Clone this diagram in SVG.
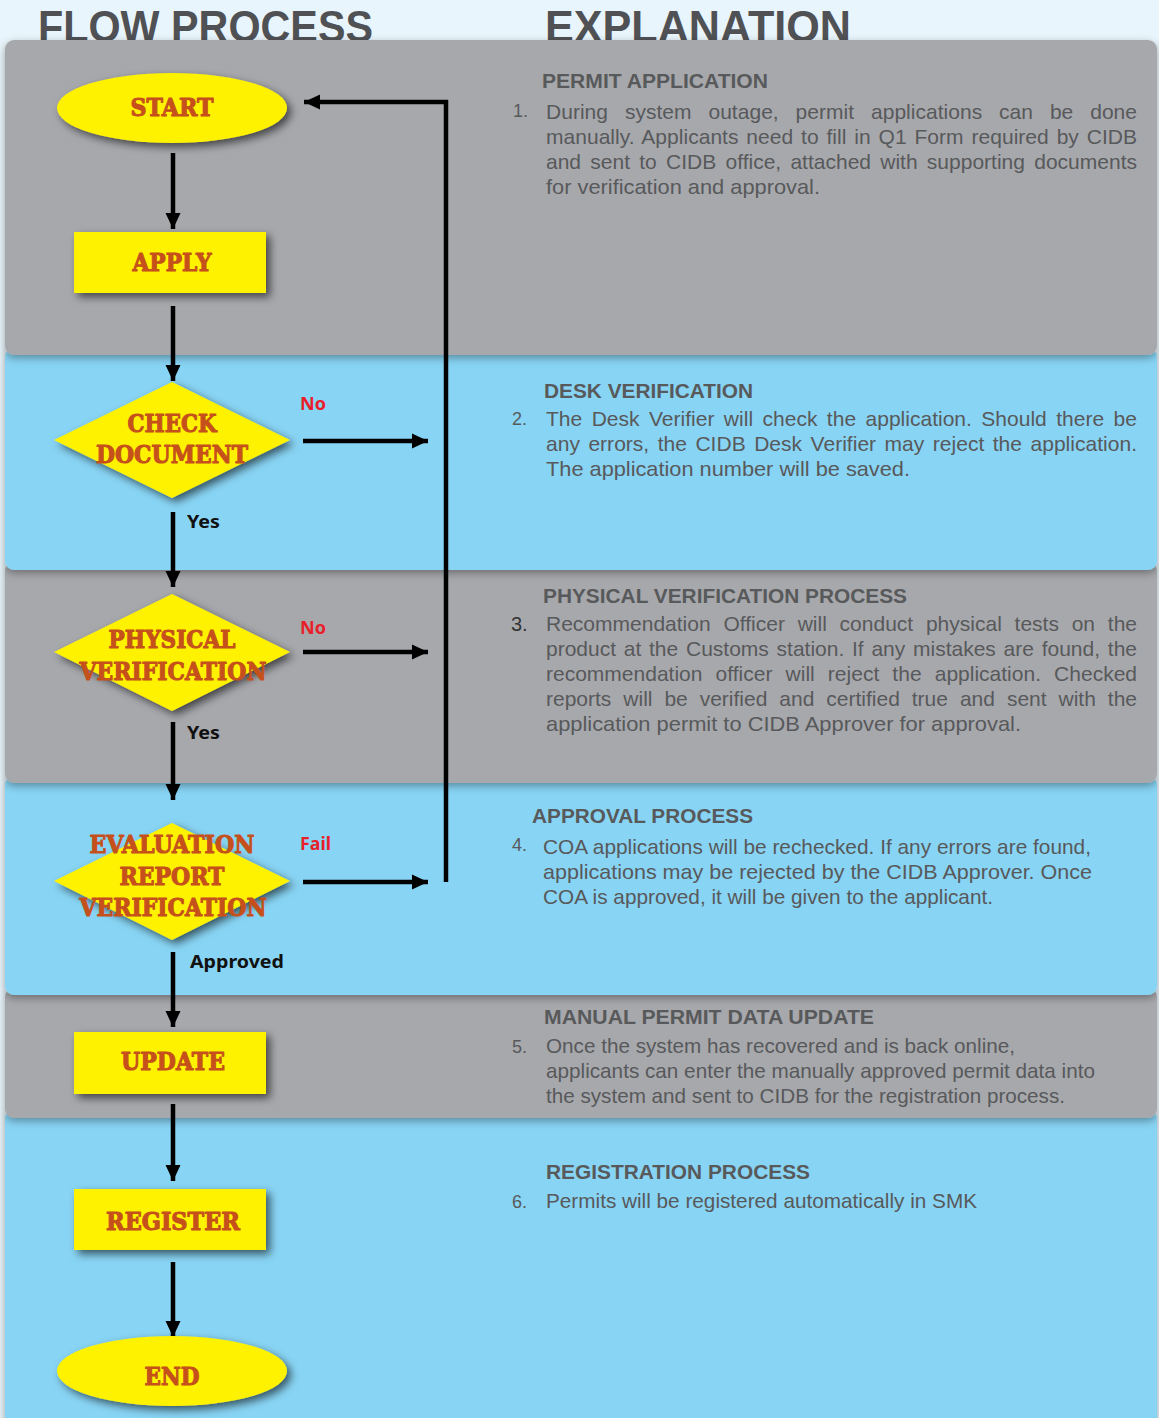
<svg xmlns="http://www.w3.org/2000/svg" width="1159" height="1418" viewBox="0 0 1159 1418">
<defs>
<style>
.hdr{font-family:"Liberation Sans",Arial,sans-serif;font-weight:bold;font-size:44px;fill:#505154}
.gray{fill:#a7a8ac}
.blue{fill:#88d4f4}
.nfill{fill:#fff200}
.ntxt{font-family:"DejaVu Serif","Liberation Serif",serif;font-weight:900;font-size:25px;fill:#c5501b;stroke:#c5501b;stroke-width:1.1;stroke-linejoin:round;text-anchor:middle}
.lbl{font-family:"Noto Sans","Lato",sans-serif;font-weight:bold;font-size:18px;fill:#111}
.red{fill:#e8202a}
.h2{font-family:"Liberation Sans",Arial,sans-serif;font-weight:bold;font-size:20px;fill:#58595b}
.bt{font-family:"Liberation Sans",Arial,sans-serif;font-size:21px;fill:#58595b}
.num{font-family:"Liberation Sans",Arial,sans-serif;font-size:18px;fill:#58595b}
.ln{stroke:#000;stroke-width:4.5;fill:none}
</style>
<filter id="bsh" x="-5%" y="-20%" width="110%" height="150%">
<feDropShadow dx="0" dy="3" stdDeviation="4" flood-color="#000" flood-opacity="0.35"/>
</filter>
<filter id="nsh" x="-20%" y="-30%" width="150%" height="170%">
<feDropShadow dx="4" dy="4" stdDeviation="4" flood-color="#000" flood-opacity="0.6"/>
</filter>
<marker id="ah" markerUnits="userSpaceOnUse" markerWidth="18" markerHeight="18" refX="16" refY="9" orient="auto">
<path d="M0,1.5 L16,9 L0,16.5 z" fill="#000"/>
</marker>
</defs>
<rect x="0" y="0" width="1159" height="1418" fill="#e9f5fc"/>
<text class="hdr" x="38" y="42" textLength="335" lengthAdjust="spacingAndGlyphs">FLOW PROCESS</text>
<text class="hdr" x="545" y="42" textLength="306" lengthAdjust="spacingAndGlyphs">EXPLANATION</text>

<g id="bands">
<rect class="blue" x="5" y="1110" width="1152" height="330" rx="9" filter="url(#bsh)"/>
<rect class="gray" x="5" y="988" width="1152" height="130" rx="9" filter="url(#bsh)"/>
<rect class="blue" x="5" y="776" width="1152" height="219" rx="9" filter="url(#bsh)"/>
<rect class="gray" x="5" y="562" width="1152" height="221" rx="9" filter="url(#bsh)"/>
<rect class="blue" x="5" y="348" width="1152" height="222" rx="9" filter="url(#bsh)"/>
<rect class="gray" x="5" y="40" width="1152" height="315" rx="9" filter="url(#bsh)"/>
</g>

<g id="connectors">
<line class="ln" x1="173" y1="153" x2="173" y2="229" marker-end="url(#ah)"/>
<line class="ln" x1="173" y1="306" x2="173" y2="381" marker-end="url(#ah)"/>
<line class="ln" x1="173" y1="512" x2="173" y2="587" marker-end="url(#ah)"/>
<line class="ln" x1="173" y1="722" x2="173" y2="800" marker-end="url(#ah)"/>
<line class="ln" x1="173" y1="952" x2="173" y2="1027" marker-end="url(#ah)"/>
<line class="ln" x1="173" y1="1104" x2="173" y2="1181" marker-end="url(#ah)"/>
<line class="ln" x1="173" y1="1262" x2="173" y2="1337" marker-end="url(#ah)"/>
<line class="ln" x1="303" y1="441" x2="428" y2="441" marker-end="url(#ah)"/>
<line class="ln" x1="303" y1="652" x2="428" y2="652" marker-end="url(#ah)"/>
<line class="ln" x1="303" y1="882" x2="428" y2="882" marker-end="url(#ah)"/>
<polyline class="ln" points="446,882 446,102 304,102" stroke-width="5" marker-end="url(#ah)"/>
<text class="lbl red" x="300" y="410" textLength="26" lengthAdjust="spacingAndGlyphs">No</text>
<text class="lbl" x="187" y="528" textLength="33" lengthAdjust="spacingAndGlyphs">Yes</text>
<text class="lbl red" x="300" y="634" textLength="26" lengthAdjust="spacingAndGlyphs">No</text>
<text class="lbl" x="187" y="739" textLength="33" lengthAdjust="spacingAndGlyphs">Yes</text>
<text class="lbl red" x="300" y="850" textLength="31" lengthAdjust="spacingAndGlyphs">Fail</text>
<text class="lbl" x="190" y="968" textLength="94" lengthAdjust="spacingAndGlyphs">Approved</text>
</g>

<g id="start">
<ellipse class="nfill" cx="172" cy="108" rx="115" ry="35" filter="url(#nsh)"/>
<text class="ntxt" x="172" y="116" textLength="83" lengthAdjust="spacingAndGlyphs">START</text>
</g>
<g id="apply">
<rect class="nfill" x="74" y="232" width="192" height="61" filter="url(#nsh)"/>
<text class="ntxt" x="172" y="271" textLength="79" lengthAdjust="spacingAndGlyphs">APPLY</text>
</g>
<g id="check">
<polygon class="nfill" points="172,382 290,440 172,498 54,440" filter="url(#nsh)"/>
<text class="ntxt" x="172" y="432" textLength="89" lengthAdjust="spacingAndGlyphs">CHECK</text>
<text class="ntxt" x="172" y="463" textLength="152" lengthAdjust="spacingAndGlyphs">DOCUMENT</text>
</g>
<g id="physical">
<polygon class="nfill" points="172,594 290,652 172,711 54,652" filter="url(#nsh)"/>
<text class="ntxt" x="172" y="648" textLength="127" lengthAdjust="spacingAndGlyphs">PHYSICAL</text>
<text class="ntxt" x="173" y="680" textLength="187" lengthAdjust="spacingAndGlyphs">VERIFICATION</text>
</g>
<g id="evaluation">
<polygon class="nfill" points="172,823 290,881 172,940 54,881" filter="url(#nsh)"/>
<text class="ntxt" x="172" y="853" textLength="165" lengthAdjust="spacingAndGlyphs">EVALUATION</text>
<text class="ntxt" x="172" y="885" textLength="105" lengthAdjust="spacingAndGlyphs">REPORT</text>
<text class="ntxt" x="173" y="916" textLength="187" lengthAdjust="spacingAndGlyphs">VERIFICATION</text>
</g>
<g id="update">
<rect class="nfill" x="74" y="1032" width="192" height="62" filter="url(#nsh)"/>
<text class="ntxt" x="173" y="1070" textLength="104" lengthAdjust="spacingAndGlyphs">UPDATE</text>
</g>
<g id="register">
<rect class="nfill" x="74" y="1189" width="192" height="61" filter="url(#nsh)"/>
<text class="ntxt" x="173" y="1230" textLength="134" lengthAdjust="spacingAndGlyphs">REGISTER</text>
</g>
<g id="end">
<ellipse class="nfill" cx="172" cy="1371" rx="115" ry="35" filter="url(#nsh)"/>
<text class="ntxt" x="172" y="1385" textLength="55" lengthAdjust="spacingAndGlyphs">END</text>
</g>

<g id="explanations">
<text class="h2" x="542" y="88" textLength="226" lengthAdjust="spacingAndGlyphs">PERMIT APPLICATION</text>
<text class="num" x="513" y="117">1.</text>
<text class="bt" x="546" y="119" word-spacing="11" textLength="591" lengthAdjust="spacing">During system outage, permit applications can be done</text>
<text class="bt" x="546" y="144" word-spacing="2" textLength="591" lengthAdjust="spacing">manually.  Applicants need to fill in Q1 Form required by CIDB</text>
<text class="bt" x="546" y="169" word-spacing="3.4" textLength="591" lengthAdjust="spacing">and sent to CIDB office, attached with supporting documents</text>
<text class="bt" x="546" y="194" textLength="274" lengthAdjust="spacingAndGlyphs">for verification and approval.</text>

<text class="h2" x="544" y="398" textLength="209" lengthAdjust="spacingAndGlyphs">DESK VERIFICATION</text>
<text class="num" x="512" y="425">2.</text>
<text class="bt" x="546" y="426" word-spacing="3.6" textLength="591" lengthAdjust="spacing">The Desk Verifier will check the application. Should there be</text>
<text class="bt" x="546" y="451" word-spacing="2.6" textLength="591" lengthAdjust="spacing">any errors, the CIDB Desk Verifier may reject the application.</text>
<text class="bt" x="546" y="476" textLength="364" lengthAdjust="spacingAndGlyphs">The application number will be saved.</text>

<text class="h2" x="543" y="603" textLength="364" lengthAdjust="spacingAndGlyphs">PHYSICAL VERIFICATION PROCESS</text>
<text class="num" x="511" y="631" style="font-size:20px;fill:#333">3.</text>
<text class="bt" x="546" y="631" word-spacing="6.9" textLength="591" lengthAdjust="spacing">Recommendation Officer will conduct physical tests on the</text>
<text class="bt" x="546" y="656" word-spacing="1.9" textLength="591" lengthAdjust="spacing">product at the Customs station.  If any mistakes are found, the</text>
<text class="bt" x="546" y="681" word-spacing="7.3" textLength="591" lengthAdjust="spacing">recommendation officer will reject the application. Checked</text>
<text class="bt" x="546" y="706" word-spacing="6.1" textLength="591" lengthAdjust="spacing">reports will be verified and certified true and sent with the</text>
<text class="bt" x="546" y="731" textLength="475" lengthAdjust="spacingAndGlyphs">application permit to CIDB Approver for approval.</text>

<text class="h2" x="532" y="823" textLength="221" lengthAdjust="spacingAndGlyphs">APPROVAL PROCESS</text>
<text class="num" x="512" y="851">4.</text>
<text class="bt" x="543" y="854" textLength="548" lengthAdjust="spacingAndGlyphs">COA applications will be rechecked. If any errors are found,</text>
<text class="bt" x="543" y="879" textLength="549" lengthAdjust="spacingAndGlyphs">applications may be rejected by the CIDB Approver. Once</text>
<text class="bt" x="543" y="904" textLength="450" lengthAdjust="spacingAndGlyphs">COA is approved, it will be given to the applicant.</text>

<text class="h2" x="544" y="1024" textLength="330" lengthAdjust="spacingAndGlyphs">MANUAL PERMIT DATA UPDATE</text>
<text class="num" x="512" y="1053">5.</text>
<text class="bt" x="546" y="1053" textLength="469" lengthAdjust="spacingAndGlyphs">Once the system has recovered and is back online,</text>
<text class="bt" x="546" y="1078" textLength="549" lengthAdjust="spacingAndGlyphs">applicants can enter the manually approved permit data into</text>
<text class="bt" x="546" y="1103" textLength="519" lengthAdjust="spacingAndGlyphs">the system and sent to CIDB for the registration process.</text>

<text class="h2" x="546" y="1179" textLength="264" lengthAdjust="spacingAndGlyphs">REGISTRATION PROCESS</text>
<text class="num" x="512" y="1208">6.</text>
<text class="bt" x="546" y="1208" textLength="431" lengthAdjust="spacingAndGlyphs">Permits will be registered automatically in SMK</text>
</g>
</svg>
